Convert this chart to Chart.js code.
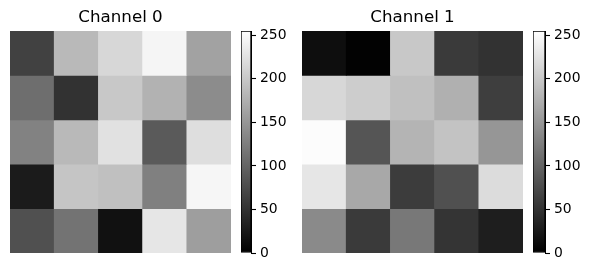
<!DOCTYPE html>
<html>
<head>
<meta charset="utf-8">
<script src="https://cdn.jsdelivr.net/npm/chart.js@4.4.0/dist/chart.umd.min.js"></script>
<style>
  body { margin: 0; background: #fff; width: 589px; height: 272px; overflow: hidden; position: relative; }
  canvas { position: absolute; }
</style>
</head>
<body>
<canvas id="heat0" style="left:10px;top:0px;width:221px;height:253px"></canvas>
<canvas id="bar0" style="left:241px;top:15px;width:50px;height:254px"></canvas>
<canvas id="heat1" style="left:302px;top:0px;width:221px;height:253px"></canvas>
<canvas id="bar1" style="left:533px;top:15px;width:51px;height:254px"></canvas>
<script>
// pixel values (rows top to bottom)
const columns = ['0', '1', '2', '3', '4'];
const channel0 = [
    [65, 185, 215, 245, 162],
    [110, 50, 200, 178, 140],
    [130, 185, 225, 90, 222],
    [27, 197, 192, 128, 246],
    [80, 115, 17, 230, 158]
];
const channel1 = [
    [14, 2, 200, 58, 50],
    [215, 205, 192, 176, 62],
    [252, 85, 180, 195, 150],
    [230, 168, 60, 80, 220],
    [138, 58, 120, 52, 30]
];
const colorbarTicks = [0, 50, 100, 150, 200, 250];
const vmin = 0;
const vmax = 255;

const font = 'DejaVu Sans';

function gray(v) {
    const g = Math.round((v - vmin) / (vmax - vmin) * 255);
    return `rgb(${g},${g},${g})`;
}

// Draw one channel as stacked bars, one dataset per row
function drawHeatmap(canvasId, title, rows) {
    const ctx = document.getElementById(canvasId).getContext('2d');
    return new Chart(ctx, {
        type: 'bar',
        data: {
            labels: columns,
            datasets: rows.map(row => ({
                data: row.map(() => 1),
                backgroundColor: row.map(gray),
                barPercentage: 1,
                categoryPercentage: 1,
                borderWidth: 0
            }))
        },
        options: {
            responsive: false,
            animation: false,
            layout: { padding: 0 },
            plugins: {
                legend: { display: false },
                tooltip: { enabled: false },
                title: {
                    display: true,
                    text: title,
                    color: '#000',
                    font: { family: font, size: 16.7, weight: 'normal' },
                    padding: { top: 8, bottom: 3 }
                }
            },
            scales: {
                x: { display: false, stacked: true },
                y: { display: false, stacked: true, min: 0, max: rows.length, reverse: true }
            }
        }
    });
}

// Colorbar: one floating bar with a vertical gradient and a right axis
function drawColorbar(canvasId, barWidth) {
    const ctx = document.getElementById(canvasId).getContext('2d');
    return new Chart(ctx, {
        type: 'bar',
        data: {
            labels: [''],
            datasets: [{
                data: [[vmin, vmax]],
                backgroundColor: (c) => {
                    const area = c.chart.chartArea;
                    if (!area) return '#888';
                    const g = c.chart.ctx.createLinearGradient(0, area.bottom, 0, area.top);
                    g.addColorStop(0, gray(vmin));
                    g.addColorStop(1, gray(vmax));
                    return g;
                },
                borderColor: '#000',
                borderWidth: 1,
                borderSkipped: false,
                barPercentage: 1,
                categoryPercentage: 1
            }]
        },
        options: {
            responsive: false,
            animation: false,
            layout: { padding: { top: 16, bottom: 16, left: 0, right: 0 } },
            plugins: {
                legend: { display: false },
                tooltip: { enabled: false }
            },
            scales: {
                x: { display: false },
                y: {
                    position: 'right',
                    min: vmin,
                    max: vmax,
                    afterFit: (scale) => { scale.width = 50 - barWidth; },
                    afterBuildTicks: (scale) => {
                        scale.ticks = colorbarTicks.map(v => ({ value: v }));
                    },
                    ticks: {
                        color: '#000',
                        padding: 4,
                        font: { family: font, size: 13.9 }
                    },
                    grid: {
                        drawOnChartArea: false,
                        tickLength: 5,
                        tickWidth: 1.1,
                        color: '#000'
                    },
                    border: { display: true, color: '#000', width: 1 }
                }
            }
        }
    });
}

drawHeatmap('heat0', 'Channel 0', channel0);
drawColorbar('bar0', 10);
drawHeatmap('heat1', 'Channel 1', channel1);
drawColorbar('bar1', 11);
</script>
</body>
</html>
